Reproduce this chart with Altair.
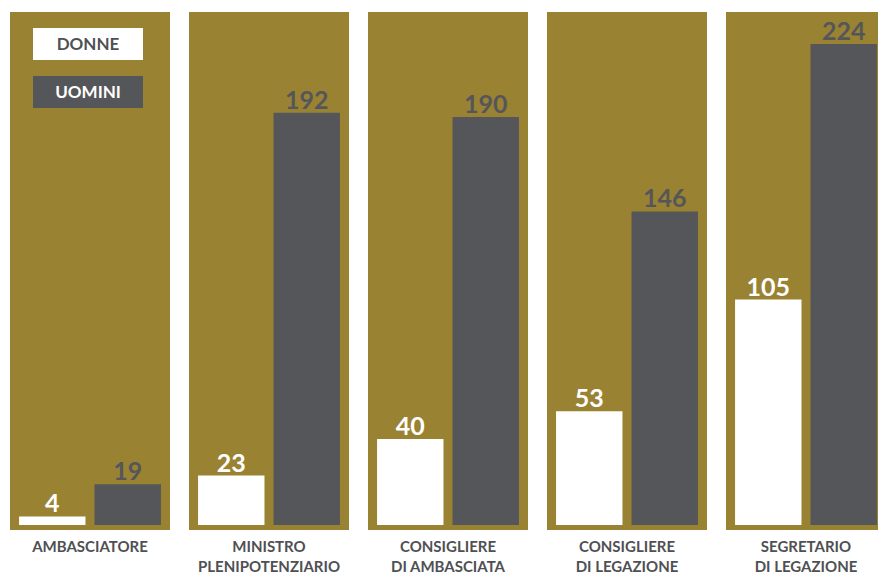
import altair as alt
import pandas as pd

categories = ["AMBASCIATORE", "MINISTRO|PLENIPOTENZIARIO", "CONSIGLIERE|DI AMBASCIATA",
              "CONSIGLIERE|DI LEGAZIONE", "SEGRETARIO|DI LEGAZIONE"]
donne = [4, 23, 40, 53, 105]
uomini = [19, 192, 190, 146, 224]
genders = ["Donne", "Uomini"]
legend_labels = ["DONNE", "UOMINI"]

OLIVE = "#9a8233"
GREY = "#55565a"
TEXT_GREY = "#4f5053"
FONT = "Lato"

rows = []
for c, d, u in zip(categories, donne, uomini):
    rows.append({"cat": c, "gender": "Donne", "value": d, "kind": "bar"})
    rows.append({"cat": c, "gender": "Uomini", "value": u, "kind": "bar"})
rows.append({"cat": categories[0], "gender": "Donne", "value": 0, "kind": "legend", "label": legend_labels[0]})
rows.append({"cat": categories[0], "gender": "Uomini", "value": 0, "kind": "legend", "label": legend_labels[1]})
df = pd.DataFrame(rows)

xenc = alt.X("gender:N", sort=genders, axis=None,
             scale=alt.Scale(paddingInner=0.12, paddingOuter=0.12))
yenc = alt.Y("value:Q", axis=None, scale=alt.Scale(domain=[-2.33, 238.9], nice=False, zero=False))

bars = alt.Chart().transform_filter("datum.kind == 'bar'").mark_bar().encode(
    x=xenc, y=yenc, y2=alt.datum(0),
    color=alt.Color("gender:N", scale=alt.Scale(domain=genders, range=["#ffffff", GREY]), legend=None),
)

labels = alt.Chart().transform_filter("datum.kind == 'bar'").mark_text(
    baseline="alphabetic", dy=-4, fontSize=25, fontWeight="bold", font=FONT
).encode(
    x=xenc, y=yenc, text=alt.Text("value:Q"),
    color=alt.condition("datum.gender == 'Donne'", alt.value("#ffffff"), alt.value(GREY)),
)

leg_d_box = alt.Chart().transform_filter("datum.kind == 'legend' && datum.gender == 'Donne'").mark_rect(
    color="#ffffff").encode(x=alt.value(23), x2=alt.value(133), y=alt.value(16), y2=alt.value(48))
leg_d_txt = alt.Chart().transform_filter("datum.kind == 'legend' && datum.gender == 'Donne'").mark_text(
    fontSize=17, fontWeight="bold", font=FONT, color=TEXT_GREY, baseline="middle").encode(
    x=alt.value(78), y=alt.value(33), text="label:N")
leg_u_box = alt.Chart().transform_filter("datum.kind == 'legend' && datum.gender == 'Uomini'").mark_rect(
    color=GREY).encode(x=alt.value(23), x2=alt.value(133), y=alt.value(64), y2=alt.value(96))
leg_u_txt = alt.Chart().transform_filter("datum.kind == 'legend' && datum.gender == 'Uomini'").mark_text(
    fontSize=17, fontWeight="bold", font=FONT, color="#ffffff", baseline="middle").encode(
    x=alt.value(78), y=alt.value(81), text="label:N")

layered = alt.layer(bars, labels, leg_d_box, leg_d_txt, leg_u_box, leg_u_txt, data=df).properties(
    width=160, height=518)

chart = layered.facet(
    column=alt.Column("cat:N", sort=categories, title=None,
                      header=alt.Header(labelOrient="bottom", labelExpr="split(datum.value, '|')",
                                        labelFontSize=15, labelFontWeight="bold", labelColor=TEXT_GREY,
                                        labelFont=FONT, labelPadding=10, labelLineHeight=20,
                                        labelBaseline="top")),
    spacing=19,
).configure_view(fill=OLIVE, strokeWidth=0).properties(
    padding={"left": 2, "top": 4, "right": -8, "bottom": 0}, background="#ffffff")

chart.save("out.html", embed_options={"renderer": "svg", "actions": False})
